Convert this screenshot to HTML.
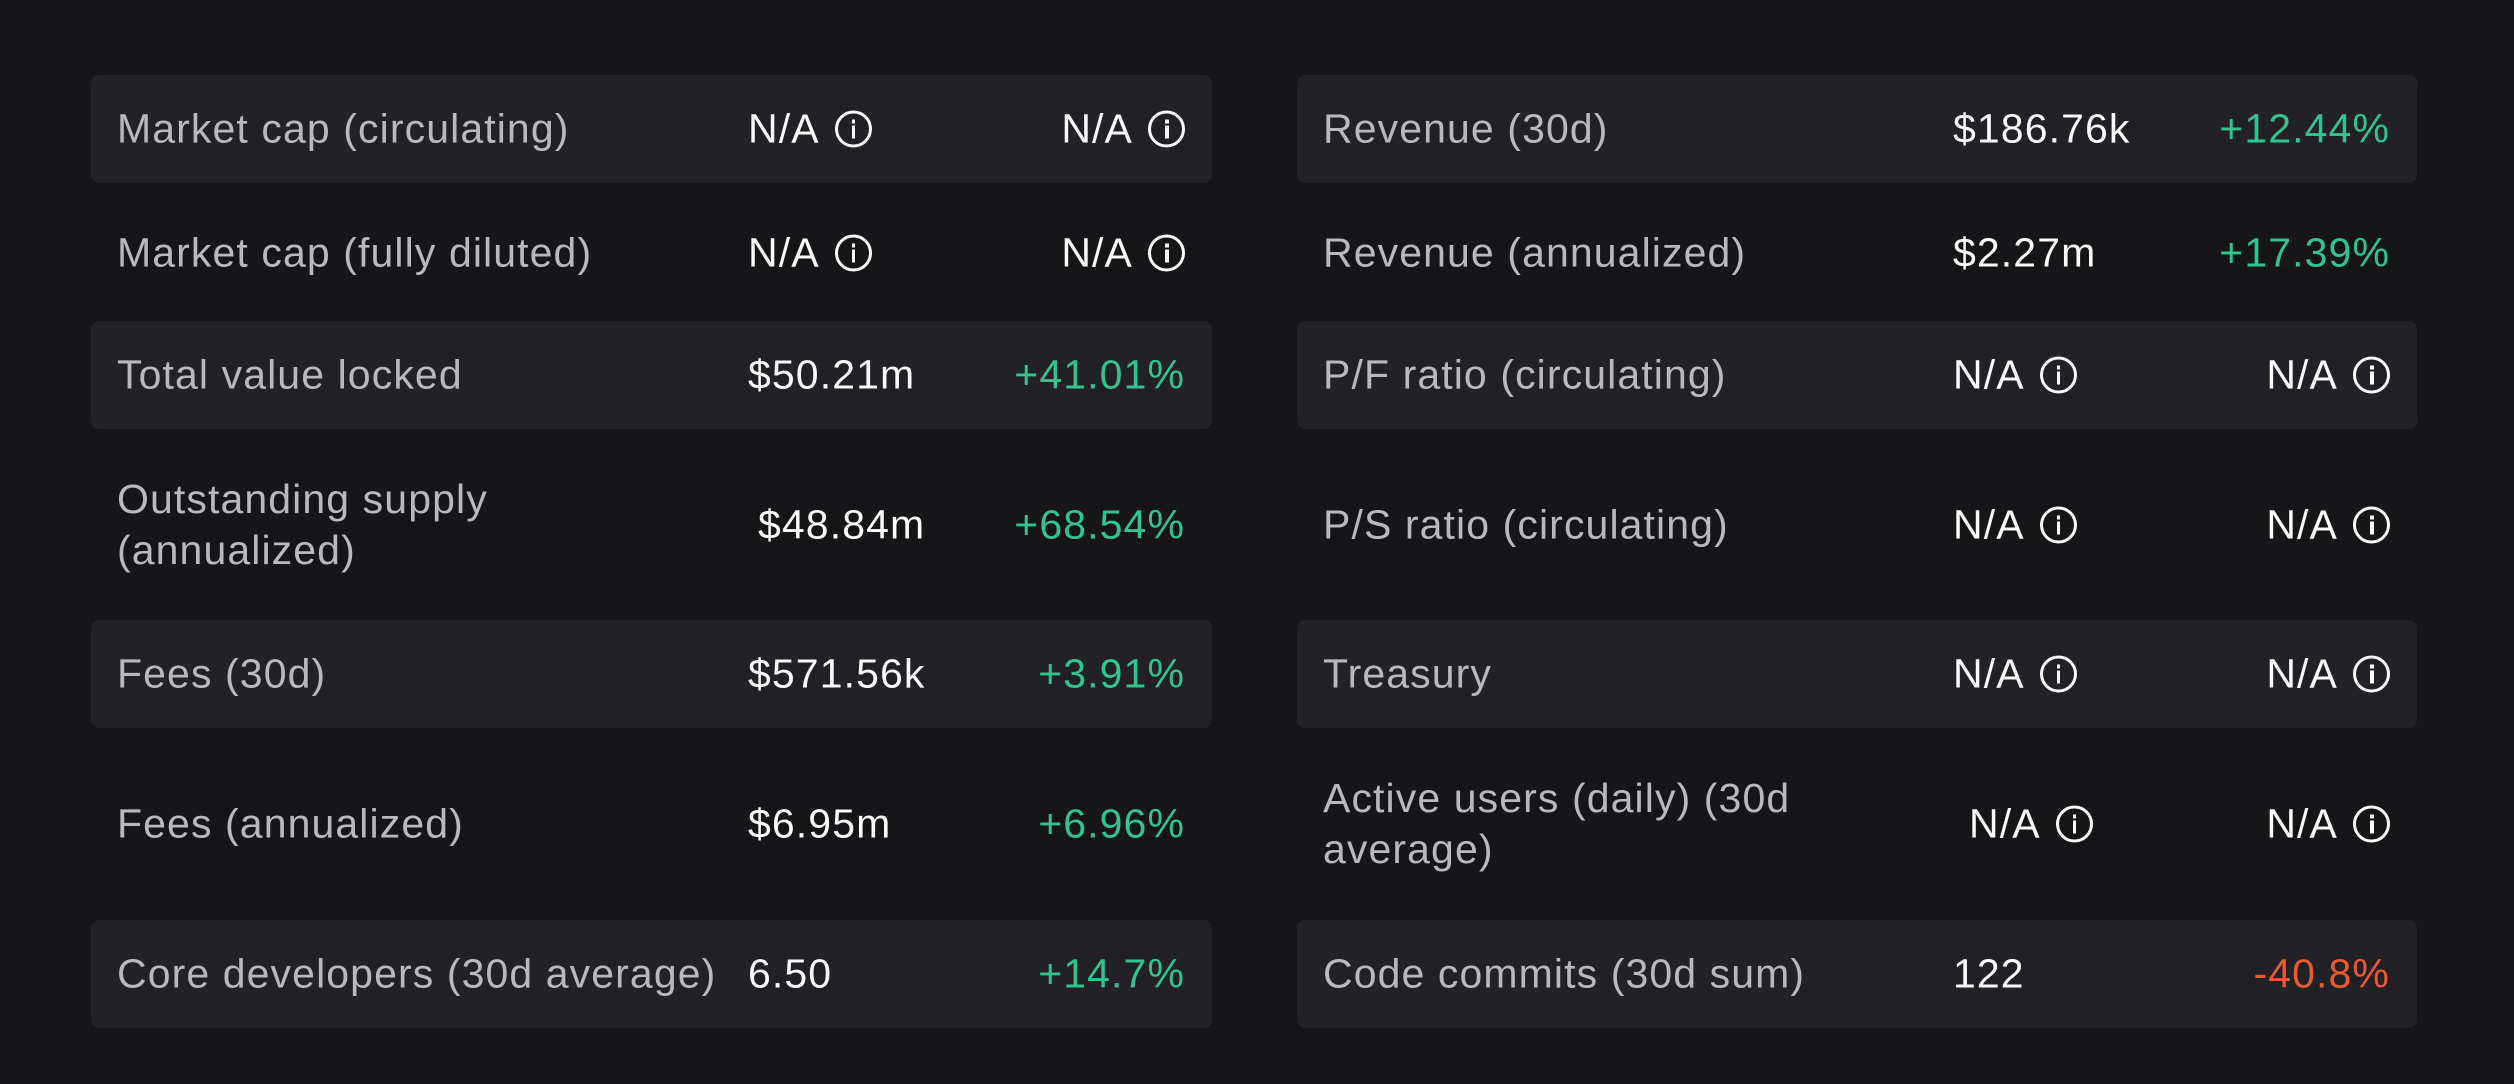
<!DOCTYPE html>
<html><head><meta charset="utf-8"><style>
body{margin:0;width:2514px;height:1084px;background:#161618;font-family:"Liberation Sans",sans-serif;overflow:hidden;position:relative}
.row{position:absolute;height:108px;border-radius:8px}
.bg{background:#212126}
.cell{position:absolute;top:50%;transform:translateY(-50%);font-size:41px;letter-spacing:1.1px;white-space:nowrap;line-height:51px}
.lbl{left:26px;color:#b9b9bd}
.val{color:#fafafa}
.pct{right:27px}
.g{color:#32c48d}.r{color:#ea5a30}
.na{display:inline-flex;align-items:center;gap:15px;color:#fafafa}
.ic{display:inline-block;width:37px;height:37px;border:3px solid #fafafa;border-radius:50%;position:relative;box-sizing:border-box}
.ic:before{content:"";position:absolute;left:14px;top:6px;width:3.5px;height:3.5px;background:#fafafa}
.ic:after{content:"";position:absolute;left:14px;top:12px;width:3.5px;height:13px;background:#fafafa}
</style></head><body>
<div>
<div class="row bg" style="left:91px;top:75px;width:1121px">
<div class="cell lbl">Market cap (circulating)</div>
<div class="cell val" style="left:657px"><span class="na">N/A<span class="ic"></span></span></div>
<div class="cell pct"><span class="na">N/A<span class="ic"></span></span></div></div>
<div class="row" style="left:91px;top:199px;width:1121px">
<div class="cell lbl">Market cap (fully diluted)</div>
<div class="cell val" style="left:657px"><span class="na">N/A<span class="ic"></span></span></div>
<div class="cell pct"><span class="na">N/A<span class="ic"></span></span></div></div>
<div class="row bg" style="left:91px;top:321px;width:1121px">
<div class="cell lbl">Total value locked</div>
<div class="cell val" style="left:657px">$50.21m</div>
<div class="cell pct g">+41.01%</div></div>
<div class="row" style="left:91px;top:471px;width:1121px">
<div class="cell lbl">Outstanding supply<br>(annualized)</div>
<div class="cell val" style="left:667px">$48.84m</div>
<div class="cell pct g">+68.54%</div></div>
<div class="row bg" style="left:91px;top:620px;width:1121px">
<div class="cell lbl">Fees (30d)</div>
<div class="cell val" style="left:657px">$571.56k</div>
<div class="cell pct g">+3.91%</div></div>
<div class="row" style="left:91px;top:770px;width:1121px">
<div class="cell lbl">Fees (annualized)</div>
<div class="cell val" style="left:657px">$6.95m</div>
<div class="cell pct g">+6.96%</div></div>
<div class="row bg" style="left:91px;top:920px;width:1121px">
<div class="cell lbl">Core developers (30d average)</div>
<div class="cell val" style="left:657px">6.50</div>
<div class="cell pct g">+14.7%</div></div>
</div>
<div>
<div class="row bg" style="left:1297px;top:75px;width:1120px">
<div class="cell lbl">Revenue (30d)</div>
<div class="cell val" style="left:656px">$186.76k</div>
<div class="cell pct g">+12.44%</div></div>
<div class="row" style="left:1297px;top:199px;width:1120px">
<div class="cell lbl">Revenue (annualized)</div>
<div class="cell val" style="left:656px">$2.27m</div>
<div class="cell pct g">+17.39%</div></div>
<div class="row bg" style="left:1297px;top:321px;width:1120px">
<div class="cell lbl">P/F ratio (circulating)</div>
<div class="cell val" style="left:656px"><span class="na">N/A<span class="ic"></span></span></div>
<div class="cell pct"><span class="na">N/A<span class="ic"></span></span></div></div>
<div class="row" style="left:1297px;top:471px;width:1120px">
<div class="cell lbl">P/S ratio (circulating)</div>
<div class="cell val" style="left:656px"><span class="na">N/A<span class="ic"></span></span></div>
<div class="cell pct"><span class="na">N/A<span class="ic"></span></span></div></div>
<div class="row bg" style="left:1297px;top:620px;width:1120px">
<div class="cell lbl">Treasury</div>
<div class="cell val" style="left:656px"><span class="na">N/A<span class="ic"></span></span></div>
<div class="cell pct"><span class="na">N/A<span class="ic"></span></span></div></div>
<div class="row" style="left:1297px;top:770px;width:1120px">
<div class="cell lbl">Active users (daily) (30d<br>average)</div>
<div class="cell val" style="left:672px"><span class="na">N/A<span class="ic"></span></span></div>
<div class="cell pct"><span class="na">N/A<span class="ic"></span></span></div></div>
<div class="row bg" style="left:1297px;top:920px;width:1120px">
<div class="cell lbl">Code commits (30d sum)</div>
<div class="cell val" style="left:656px">122</div>
<div class="cell pct r">-40.8%</div></div>
</div>
</body></html>
